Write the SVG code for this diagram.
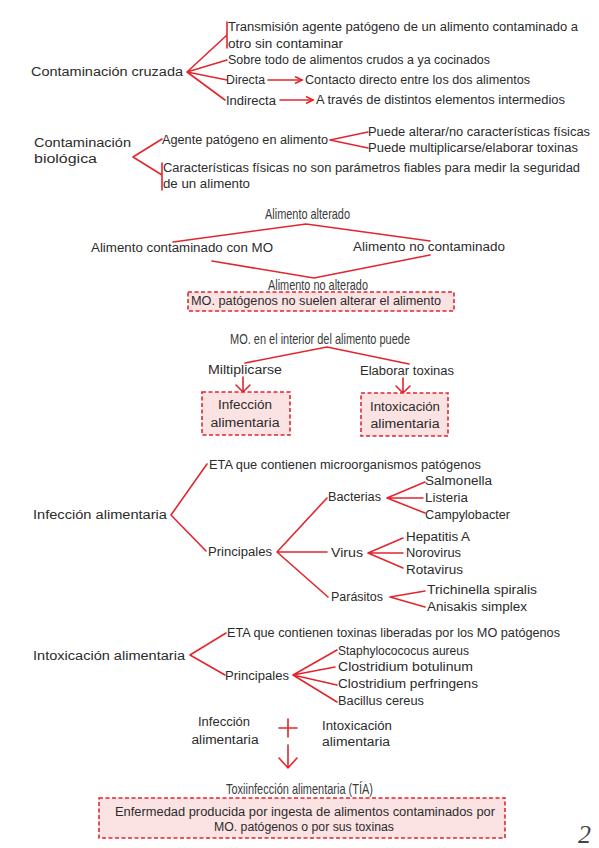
<svg xmlns="http://www.w3.org/2000/svg" width="599" height="848" viewBox="0 0 599 848">
<defs>
<style>
.t{font-family:"Liberation Sans",Arial,sans-serif;font-size:12.5px;fill:#2b2b2b}
.th{font-family:"Liberation Sans",Arial,sans-serif;font-size:15px;fill:#3a3a3a}
.c{text-anchor:middle}
.ln{stroke:#e3262e;stroke-width:1.6;fill:none;stroke-linecap:round;stroke-linejoin:round}
.box{fill:#fbe3e3;stroke:#e3262e;stroke-width:1.6;stroke-dasharray:4 2.5}
</style>
<marker id="ah" markerWidth="10" markerHeight="10" refX="8" refY="4" orient="auto" markerUnits="userSpaceOnUse">
<path d="M1,0.5 L8,4 L1,7.5" fill="none" stroke="#e3262e" stroke-width="1.6"/>
</marker>
</defs>
<rect width="599" height="848" fill="#fff"/>

<g id="connectors">
<path class="ln" d="M187,72 L227,35 M227,22 L227,48 M187,72 L227,60 M187,72 L227,80 M187,72 L225,100"/>
<path class="ln" d="M268,80 L302,80" marker-end="url(#ah)"/>
<path class="ln" d="M280,100 L313,100" marker-end="url(#ah)"/>
<path class="ln" d="M133,157 L162,139 M133,157 L162,175 M162,163 L162,190"/>
<path class="ln" d="M330,140 L368,132 M330,140 L368,148"/>
<path class="ln" d="M173,242 L306,224 L430,241"/>
<path class="ln" d="M212,261 L314,278 L430,255"/>
<path class="ln" d="M245,363 L327,347 L409,364"/>
<path class="ln" d="M243,377 L243,392 M236,385 L243,392 L250,385"/>
<path class="ln" d="M403,378 L403,393 M396,386 L403,393 L410,386"/>
<path class="ln" d="M207,464 L171,515 L206,551"/>
<path class="ln" d="M327,498 L277,552 L327,552 M277,552 L328,597"/>
<path class="ln" d="M425,482 L387,498 L423,498 M387,498 L425,513"/>
<path class="ln" d="M403,538 L368,553 L403,553 M368,553 L403,568"/>
<path class="ln" d="M425,591 L390,597 L425,607"/>
<path class="ln" d="M226,633 L190,655 L225,675"/>
<path class="ln" d="M337,650 L293,675 L335,667 M293,675 L337,685 M293,675 L337,702"/>
<path class="ln" d="M279,728 L297,728 M288,719 L288,737"/>
<path class="ln" d="M288,745 L288,768 M279,758 L288,768 L297,758"/>
</g>

<g id="n-contaminacion-cruzada"><text class="t" x="31" y="76" textLength="152" lengthAdjust="spacingAndGlyphs">Contaminación cruzada</text></g>
<g id="n-transmision">
<text class="t" x="228" y="31" textLength="350" lengthAdjust="spacingAndGlyphs">Transmisión agente patógeno de un alimento contaminado a</text>
<text class="t" x="228" y="48" textLength="115" lengthAdjust="spacingAndGlyphs">otro sin contaminar</text>
</g>
<g id="n-sobre"><text class="t" x="228" y="64" textLength="262" lengthAdjust="spacingAndGlyphs">Sobre todo de alimentos crudos a ya cocinados</text></g>
<g id="n-directa"><text class="t" x="226" y="84" textLength="39" lengthAdjust="spacingAndGlyphs">Directa</text></g>
<g id="n-contacto"><text class="t" x="305" y="84" textLength="225" lengthAdjust="spacingAndGlyphs">Contacto directo entre los dos alimentos</text></g>
<g id="n-indirecta"><text class="t" x="226" y="105" textLength="50" lengthAdjust="spacingAndGlyphs">Indirecta</text></g>
<g id="n-traves"><text class="t" x="316" y="104" textLength="249" lengthAdjust="spacingAndGlyphs">A través de distintos elementos intermedios</text></g>

<g id="n-contaminacion-biologica">
<text class="t" x="34" y="147" textLength="97" lengthAdjust="spacingAndGlyphs">Contaminación</text>
<text class="t" x="34" y="163" textLength="63" lengthAdjust="spacingAndGlyphs">biológica</text>
</g>
<g id="n-agente"><text class="t" x="162" y="144" textLength="166" lengthAdjust="spacingAndGlyphs">Agente patógeno en alimento</text></g>
<g id="n-alterar"><text class="t" x="368" y="136" textLength="222" lengthAdjust="spacingAndGlyphs">Puede alterar/no características físicas</text></g>
<g id="n-multiplicarse"><text class="t" x="368" y="152" textLength="210" lengthAdjust="spacingAndGlyphs">Puede multiplicarse/elaborar toxinas</text></g>
<g id="n-caracteristicas">
<text class="t" x="163" y="172" textLength="417" lengthAdjust="spacingAndGlyphs">Características físicas no son parámetros fiables para medir la seguridad</text>
<text class="t" x="163" y="188" textLength="87" lengthAdjust="spacingAndGlyphs">de un alimento</text>
</g>

<g id="n-alimento-alterado"><text class="th" x="265" y="219" textLength="85" lengthAdjust="spacingAndGlyphs">Alimento alterado</text></g>
<g id="n-contaminado-mo"><text class="t" x="91" y="252" textLength="182" lengthAdjust="spacingAndGlyphs">Alimento contaminado con MO</text></g>
<g id="n-no-contaminado"><text class="t" x="353" y="251" textLength="152" lengthAdjust="spacingAndGlyphs">Alimento no contaminado</text></g>
<g id="n-no-alterado"><text class="th" x="268" y="290" textLength="100" lengthAdjust="spacingAndGlyphs">Alimento no alterado</text></g>
<g id="n-mo-no-suelen">
<rect class="box" x="188" y="292" width="266" height="19"/>
<text class="t" x="191" y="305" textLength="250" lengthAdjust="spacingAndGlyphs">MO. patógenos no suelen alterar el alimento</text>
</g>

<g id="n-mo-interior"><text class="th" x="230" y="344" textLength="180" lengthAdjust="spacingAndGlyphs">MO. en el interior del alimento puede</text></g>
<g id="n-miltiplicarse"><text class="t" x="208" y="374" textLength="74" lengthAdjust="spacingAndGlyphs">Miltiplicarse</text></g>
<g id="n-elaborar"><text class="t" x="360" y="375" textLength="94" lengthAdjust="spacingAndGlyphs">Elaborar toxinas</text></g>
<g id="n-box-infeccion">
<rect class="box" x="202" y="392" width="88" height="43"/>
<text class="t c" x="245" y="409" textLength="54" lengthAdjust="spacingAndGlyphs">Infección</text>
<text class="t c" x="245" y="427" textLength="69" lengthAdjust="spacingAndGlyphs">alimentaria</text>
</g>
<g id="n-box-intoxicacion">
<rect class="box" x="361" y="393" width="87" height="43"/>
<text class="t c" x="405" y="411" textLength="70" lengthAdjust="spacingAndGlyphs">Intoxicación</text>
<text class="t c" x="405" y="428" textLength="69" lengthAdjust="spacingAndGlyphs">alimentaria</text>
</g>

<g id="n-infeccion-alimentaria"><text class="t" x="33" y="519" textLength="134" lengthAdjust="spacingAndGlyphs">Infección alimentaria</text></g>
<g id="n-eta-micro"><text class="t" x="209" y="469" textLength="272" lengthAdjust="spacingAndGlyphs">ETA que contienen microorganismos patógenos</text></g>
<g id="n-principales-1"><text class="t" x="208" y="556" textLength="64" lengthAdjust="spacingAndGlyphs">Principales</text></g>
<g id="n-bacterias"><text class="t" x="328" y="501" textLength="53" lengthAdjust="spacingAndGlyphs">Bacterias</text></g>
<g id="n-salmonella"><text class="t" x="425" y="485" textLength="67" lengthAdjust="spacingAndGlyphs">Salmonella</text></g>
<g id="n-listeria"><text class="t" x="425" y="502" textLength="43" lengthAdjust="spacingAndGlyphs">Listeria</text></g>
<g id="n-campylobacter"><text class="t" x="425" y="519" textLength="85" lengthAdjust="spacingAndGlyphs">Campylobacter</text></g>
<g id="n-virus"><text class="t" x="331" y="557" textLength="32" lengthAdjust="spacingAndGlyphs">Virus</text></g>
<g id="n-hepatitis"><text class="t" x="406" y="541" textLength="64" lengthAdjust="spacingAndGlyphs">Hepatitis A</text></g>
<g id="n-norovirus"><text class="t" x="406" y="557" textLength="55" lengthAdjust="spacingAndGlyphs">Norovirus</text></g>
<g id="n-rotavirus"><text class="t" x="406" y="574" textLength="57" lengthAdjust="spacingAndGlyphs">Rotavirus</text></g>
<g id="n-parasitos"><text class="t" x="331" y="601" textLength="52" lengthAdjust="spacingAndGlyphs">Parásitos</text></g>
<g id="n-trichinella"><text class="t" x="427" y="594" textLength="110" lengthAdjust="spacingAndGlyphs">Trichinella spiralis</text></g>
<g id="n-anisakis"><text class="t" x="427" y="611" textLength="100" lengthAdjust="spacingAndGlyphs">Anisakis simplex</text></g>

<g id="n-intoxicacion-alimentaria"><text class="t" x="33" y="660" textLength="152" lengthAdjust="spacingAndGlyphs">Intoxicación alimentaria</text></g>
<g id="n-eta-toxinas"><text class="t" x="227" y="637" textLength="333" lengthAdjust="spacingAndGlyphs">ETA que contienen toxinas liberadas por los MO patógenos</text></g>
<g id="n-principales-2"><text class="t" x="225" y="680" textLength="64" lengthAdjust="spacingAndGlyphs">Principales</text></g>
<g id="n-staph"><text class="t" x="338" y="655" textLength="131" lengthAdjust="spacingAndGlyphs">Staphylocococus aureus</text></g>
<g id="n-botulinum"><text class="t" x="338" y="671" textLength="135" lengthAdjust="spacingAndGlyphs">Clostridium botulinum</text></g>
<g id="n-perfringens"><text class="t" x="338" y="688" textLength="140" lengthAdjust="spacingAndGlyphs">Clostridium perfringens</text></g>
<g id="n-bacillus"><text class="t" x="338" y="705" textLength="86" lengthAdjust="spacingAndGlyphs">Bacillus cereus</text></g>

<g id="n-sum-infeccion">
<text class="t c" x="224" y="726" textLength="52" lengthAdjust="spacingAndGlyphs">Infección</text>
<text class="t c" x="225" y="744" textLength="67" lengthAdjust="spacingAndGlyphs">alimentaria</text>
</g>
<g id="n-sum-intoxicacion">
<text class="t" x="322" y="730" textLength="70" lengthAdjust="spacingAndGlyphs">Intoxicación</text>
<text class="t" x="322" y="746" textLength="68" lengthAdjust="spacingAndGlyphs">alimentaria</text>
</g>
<g id="n-tia"><text class="th" x="226" y="794" textLength="147" lengthAdjust="spacingAndGlyphs">Toxiinfección alimentaria (TÍA)</text></g>
<g id="n-enfermedad">
<rect class="box" x="99" y="798" width="406" height="40"/>
<text class="t" x="115" y="816" textLength="380" lengthAdjust="spacingAndGlyphs">Enfermedad producida por ingesta de alimentos contaminados por</text>
<text class="t c" x="304" y="831" textLength="180" lengthAdjust="spacingAndGlyphs">MO. patógenos o por sus toxinas</text>
</g>
<g id="page-number"><text x="578" y="843" font-family="'Liberation Serif',serif" font-style="italic" font-size="26" fill="#444">2</text></g>
</svg>
